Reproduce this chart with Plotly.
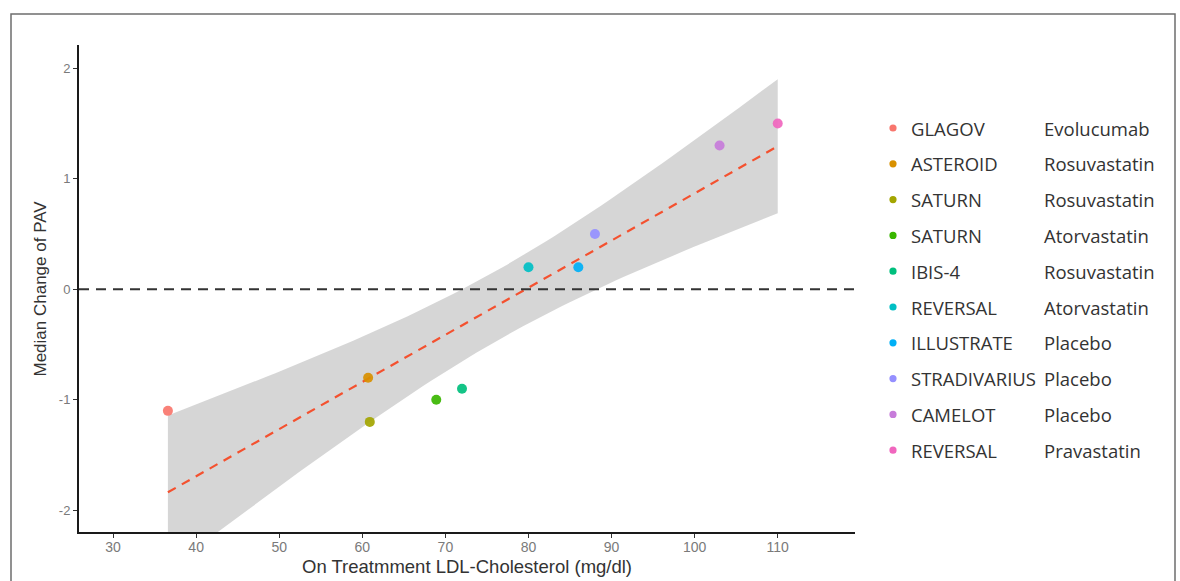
import numpy as np
import plotly.graph_objects as go

# ---------------- data ----------------
studies = ["GLAGOV", "ASTEROID", "SATURN", "SATURN", "IBIS-4",
           "REVERSAL", "ILLUSTRATE", "STRADIVARIUS", "CAMELOT", "REVERSAL"]
treatments = ["Evolucumab", "Rosuvastatin", "Rosuvastatin", "Atorvastatin", "Rosuvastatin",
              "Atorvastatin", "Placebo", "Placebo", "Placebo", "Pravastatin"]
ldl = [36.6, 60.7, 60.9, 68.9, 72.0, 80.0, 86.0, 88.0, 103.0, 110.0]
pav_change = [-1.1, -0.8, -1.2, -1.0, -0.9, 0.2, 0.2, 0.5, 1.3, 1.5]
colors = ["#F8766D", "#D89000", "#A3A500", "#39B600", "#00BF7D",
          "#00BFC4", "#00B0F6", "#9590FF", "#C77CDA", "#F066BE"]
x_ticks = [30, 40, 50, 60, 70, 80, 90, 100, 110]
y_ticks = [-2, -1, 0, 1, 2]
x_title = "On Treatmment LDL-Cholesterol (mg/dl)"
y_title = "Median Change of PAV"

# ---------------- linear fit with 95% CI (like geom_smooth(method="lm")) ----------------
x = np.array(ldl)
y = np.array(pav_change)
n = len(x)
slope, intercept = np.polyfit(x, y, 1)
resid = y - (slope * x + intercept)
s = np.sqrt(np.sum(resid ** 2) / (n - 2))
t_crit = 2.306  # t(0.975, df=8)
xs = np.linspace(x.min(), x.max(), 80)
fit = slope * xs + intercept
se = s * np.sqrt(1.0 / n + (xs - x.mean()) ** 2 / np.sum((x - x.mean()) ** 2))
upper = fit + t_crit * se
lower = fit - t_crit * se

# ---------------- layout geometry (pixels) ----------------
W, H = 1180, 581
L, R, T, B = 79, 325, 45, 49
pw = W - L - R
ph = H - T - B


def px(xp):
    return (xp - L) / pw


def py(yp):
    return (H - B - yp) / ph


fig = go.Figure()

# CI band
fig.add_trace(go.Scatter(
    x=np.concatenate([xs, xs[::-1]]), y=np.concatenate([upper, lower[::-1]]),
    fill="toself", fillcolor="rgba(153,153,153,0.4)", line=dict(width=0),
    mode="lines", hoverinfo="skip", showlegend=False))
# fit line
fig.add_trace(go.Scatter(
    x=xs, y=fit, mode="lines", line=dict(color="#F4512F", width=2.2, dash="9px,7px"),
    hoverinfo="skip", showlegend=False))
# points
for i in range(n):
    fig.add_trace(go.Scatter(
        x=[ldl[i]], y=[pav_change[i]], mode="markers",
        marker=dict(color=colors[i], size=10, opacity=0.92, line=dict(width=0)),
        name=f"{studies[i]} {treatments[i]}", showlegend=False))

shapes = []
# zero reference line
shapes.append(dict(type="line", xref="paper", yref="y", x0=0, x1=1, y0=0, y1=0,
                   line=dict(color="#333333", width=2, dash="10px,7px")))
# outer frame
shapes.append(dict(type="rect", xref="paper", yref="paper",
                   x0=px(11), x1=px(1175), y0=py(640), y1=py(14),
                   line=dict(color="#6E6E6E", width=1.5), fillcolor="rgba(0,0,0,0)", layer="below"))

annotations = []
# axis titles
annotations.append(dict(xref="paper", yref="paper", x=0.5, y=py(566), text=x_title,
                        showarrow=False, xanchor="center", yanchor="middle",
                        font=dict(size=18.5, color="#333333")))
annotations.append(dict(xref="paper", yref="paper", x=px(40), y=0.5, text=y_title,
                        showarrow=False, xanchor="center", yanchor="middle", textangle=-90,
                        font=dict(size=17, color="#333333")))
# custom legend
row0, row_step = 128, 35.8
for i in range(n):
    yy = py(row0 + i * row_step)
    shapes.append(dict(type="circle", xref="paper", yref="paper",
                       xsizemode="pixel", ysizemode="pixel",
                       xanchor=px(893), yanchor=yy, x0=-3.6, x1=3.6, y0=-3.6, y1=3.6,
                       fillcolor=colors[i], line=dict(width=0)))
    annotations.append(dict(xref="paper", yref="paper", x=px(909), y=yy, text=studies[i],
                            showarrow=False, xanchor="left", yanchor="middle",
                            font=dict(family="Open Sans", size=18.5, color="#333333")))
    annotations.append(dict(xref="paper", yref="paper", x=px(1042), y=yy, text=treatments[i],
                            showarrow=False, xanchor="left", yanchor="middle",
                            font=dict(family="Open Sans", size=18.5, color="#333333")))

fig.update_layout(
    width=W, height=H,
    margin=dict(l=L, r=R, t=T, b=B, pad=0, autoexpand=False),
    paper_bgcolor="white", plot_bgcolor="white",
    showlegend=False,
    shapes=shapes, annotations=annotations,
    font=dict(family="Liberation Sans, Arial, sans-serif"),
    xaxis=dict(range=[25.9, 119.3], tickvals=x_ticks, ticktext=[str(v) for v in x_ticks],
               showgrid=False, zeroline=False, showline=True, linecolor="#1A1A1A", linewidth=2,
               ticks="outside", ticklen=4, tickwidth=1, tickcolor="#333333", automargin=False,
               ticklabelstandoff=-3,
               tickfont=dict(size=14, color="#7A7A7A")),
    yaxis=dict(range=[-2.196, 2.21], tickvals=y_ticks, ticktext=[str(v) for v in y_ticks],
               showgrid=False, zeroline=False, showline=True, linecolor="#1A1A1A", linewidth=2,
               ticks="outside", ticklen=4, tickwidth=1, tickcolor="#333333", automargin=False,
               tickfont=dict(size=13, color="#7A7A7A")),
)

fig.write_html("out.html", config={"displayModeBar": False},
               post_script="document.body.style.margin='0';document.body.style.overflow='hidden';")
